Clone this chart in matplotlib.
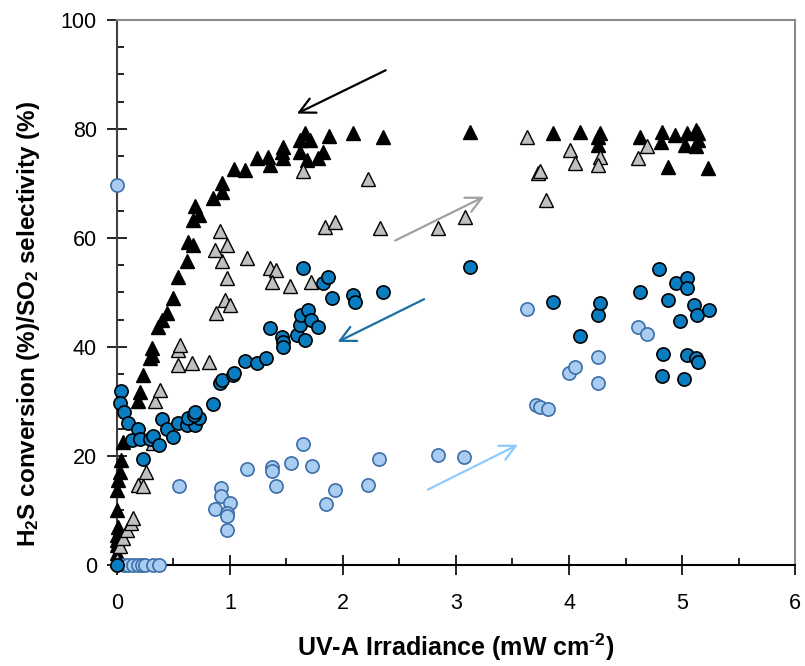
import matplotlib
matplotlib.use("Agg")
import matplotlib.pyplot as plt
from matplotlib.ticker import MultipleLocator

plt.rcParams['font.family'] = ['Liberation Sans', 'DejaVu Sans']
plt.rcParams['mathtext.fontset'] = 'custom'
plt.rcParams['mathtext.rm'] = 'Liberation Sans:bold'
plt.rcParams['mathtext.bf'] = 'Liberation Sans:bold'
plt.rcParams['mathtext.default'] = 'bf'

# black triangles
black_x = [0.0, 0.0, 0.0, 0.01, 0.0, 0.0, 0.01, 0.0, 0.0, 0.03,
           0.04, 0.05, 0.19, 0.20, 0.23, 0.29, 0.31, 0.31, 0.36, 0.40,
           0.44, 0.50, 0.54, 0.62, 0.63, 0.67, 0.67, 0.69, 0.73, 0.85,
           0.93, 0.93, 1.04, 1.13, 1.24, 1.34, 1.35, 1.46, 1.47, 1.47,
           1.62, 1.62, 1.66, 1.68, 1.71, 1.78, 1.82, 1.88, 2.09, 2.35,
           3.12, 3.86, 4.10, 4.26, 4.27, 4.26, 4.63, 4.81, 4.82, 4.88,
           4.94, 5.03, 5.04, 5.12, 5.12, 5.14, 5.14, 5.23]
black_y = [2.2, 3.7, 5.5, 7.0, 10.1, 13.8, 15.6, 4.5, 1.0, 17.1,
           19.3, 22.6, 30.0, 31.8, 34.9, 38.0, 38.5, 39.8, 43.7, 45.0,
           46.2, 49.0, 52.9, 55.7, 59.3, 58.7, 63.3, 65.8, 64.2, 67.3,
           68.5, 70.1, 72.7, 72.5, 74.6, 74.9, 73.4, 75.8, 76.7, 74.6,
           75.8, 78.0, 79.2, 74.3, 78.0, 74.6, 75.8, 78.7, 79.2, 78.6,
           79.5, 79.2, 79.5, 78.6, 79.2, 77.1, 78.6, 77.7, 79.5, 73.1,
           78.9, 77.1, 79.2, 79.8, 76.8, 79.2, 78.0, 72.8]

# grey triangles
grey_x = [0.0, 0.03, 0.05, 0.09, 0.12, 0.14, 0.19, 0.23, 0.26, 0.32,
          0.34, 0.38, 0.54, 0.54, 0.56, 0.66, 0.81, 0.88, 0.96, 1.00,
          0.97, 0.93, 0.87, 0.97, 0.91, 1.15, 1.35, 1.41, 1.37, 1.53,
          1.72, 1.84, 1.93, 1.65, 2.22, 2.33, 2.84, 3.08, 3.63, 3.73,
          3.74, 3.80, 4.01, 4.05, 4.27, 4.26, 4.61, 4.69]
grey_y = [1.0, 3.4, 5.0, 6.4, 7.7, 8.6, 14.7, 14.4, 17.1, 22.4,
          30.0, 32.1, 36.7, 39.4, 40.4, 37.0, 37.3, 46.2, 48.6, 47.7,
          52.6, 55.7, 57.8, 58.7, 61.2, 56.3, 54.4, 54.1, 52.0, 51.1,
          52.0, 62.1, 63.0, 72.2, 70.9, 61.8, 61.8, 63.9, 78.6, 71.9,
          72.2, 67.0, 76.1, 73.7, 74.9, 73.4, 74.6, 76.8]

# dark blue circles
blue_x = [0.0, 0.04, 0.03, 0.06, 0.10, 0.19, 0.13, 0.20, 0.29, 0.32,
          0.37, 0.23, 0.40, 0.44, 0.50, 0.54, 0.62, 0.69, 0.63, 0.73,
          0.68, 0.69, 0.85, 0.91, 0.93, 1.03, 1.04, 1.13, 1.24, 1.32,
          1.35, 1.46, 1.47, 1.47, 1.59, 1.66, 1.62, 1.63, 1.69, 1.72,
          1.78, 1.65, 1.82, 1.87, 1.90, 2.09, 2.11, 2.35, 3.12, 3.86,
          4.10, 4.26, 4.27, 4.63, 4.80, 4.88, 4.95, 5.04, 5.04, 5.11,
          5.13, 5.24, 4.98, 4.83, 5.04, 5.12, 5.14, 4.82, 5.02]
blue_y = [0.0, 32.0, 29.7, 28.1, 26.0, 24.9, 22.9, 23.1, 23.2, 23.6,
          22.0, 19.4, 26.7, 24.9, 23.5, 26.1, 25.7, 25.7, 26.9, 26.9,
          27.5, 28.1, 29.5, 33.3, 34.0, 34.9, 35.2, 37.5, 37.1, 37.9,
          43.5, 41.9, 41.0, 40.0, 42.2, 41.3, 44.0, 45.9, 46.8, 45.0,
          43.7, 54.4, 51.7, 52.9, 48.9, 49.5, 48.3, 50.1, 54.7, 48.3,
          42.0, 45.9, 48.0, 50.0, 54.3, 48.6, 51.8, 52.6, 50.8, 47.7,
          45.9, 46.7, 44.7, 38.7, 38.5, 38.0, 37.2, 34.7, 34.1]

# light blue circles
light_x = [0.0, 0.06, 0.10, 0.14, 0.19, 0.22, 0.25, 0.32, 0.37, 0.55,
           0.92, 0.92, 1.00, 0.87, 0.97, 0.97, 0.97, 1.15, 1.37, 1.37,
           1.41, 1.54, 1.65, 1.73, 1.85, 1.93, 2.22, 2.32, 2.84, 3.07,
           3.63, 3.71, 3.74, 3.81, 4.00, 4.05, 4.26, 4.26, 4.61, 4.69]
light_y = [69.7, 0.0, 0.0, 0.0, 0.0, 0.0, 0.0, 0.0, 0.0, 14.4,
           14.1, 12.7, 11.3, 10.2, 9.5, 8.9, 6.4, 17.6, 17.9, 17.3,
           14.4, 18.7, 22.2, 18.2, 11.2, 13.8, 14.6, 19.4, 20.2, 19.9,
           47.0, 29.4, 28.9, 28.6, 35.2, 36.4, 38.2, 33.3, 43.7, 42.4]

# trend arrows: (start, end, colour)
arrows = [((2.40, 91.0), (1.57, 82.6), 'black'),
          ((2.44, 59.3), (3.27, 67.8), '#a0a0a0'),
          ((2.74, 49.0), (1.93, 40.7), '#1a6fa3'),
          ((2.73, 13.6), (3.57, 22.3), '#8ccbff')]

fig = plt.figure(figsize=(8.05, 6.66), dpi=100)
ax = fig.add_axes([0.1453, 0.1517, 0.8423, 0.8183])

ax.plot(black_x, black_y, '^', ms=10, mfc='black', mec='black', mew=1, clip_on=False, zorder=3)
ax.plot(grey_x, grey_y, '^', ms=10, mfc='#c0c0c0', mec='black', mew=1, clip_on=False, zorder=4)
ax.plot(light_x, light_y, 'o', ms=9.5, mfc='#a8cdf0', mec='#3d6ea8', mew=1.2, clip_on=False, zorder=5)
ax.plot(blue_x, blue_y, 'o', ms=9.5, mfc='#0a7cc0', mec='black', mew=1.2, clip_on=False, zorder=6)

for start, end, col in arrows:
    ax.annotate('', xy=end, xytext=start,
                arrowprops=dict(arrowstyle='->', color=col, lw=1.6, mutation_scale=28))

ax.set_xlim(0, 6)
ax.set_ylim(0, 100)
ax.xaxis.set_major_locator(MultipleLocator(1))
ax.xaxis.set_minor_locator(MultipleLocator(0.5))
ax.yaxis.set_major_locator(MultipleLocator(20))
ax.yaxis.set_minor_locator(MultipleLocator(5))
ax.tick_params(which='major', direction='inout', length=15, width=1.2, labelsize=15.5)
ax.tick_params(axis='x', which='major', pad=13)
ax.tick_params(axis='y', which='major', pad=7)
ax.tick_params(which='minor', direction='in', length=5, width=1.2)

ax.spines['bottom'].set_color('black')
ax.spines['left'].set_color('#404040')
ax.spines['top'].set_color('#8a8a8a')
ax.spines['right'].set_color('#8a8a8a')
for s in ax.spines.values():
    s.set_linewidth(1.5)

ax.set_xlabel('UV-A Irradiance (mW cm$^{\u20102}$)', fontsize=18, fontweight='bold')
ax.set_ylabel('H$_{2}$S conversion (%)/SO$_{2}$ selectivity (%)', fontsize=17.5, fontweight='bold')
ax.xaxis.set_label_coords(0.5, -0.122)
ax.yaxis.set_label_coords(-0.11, 0.442)

fig.savefig('out.png', dpi=100)
